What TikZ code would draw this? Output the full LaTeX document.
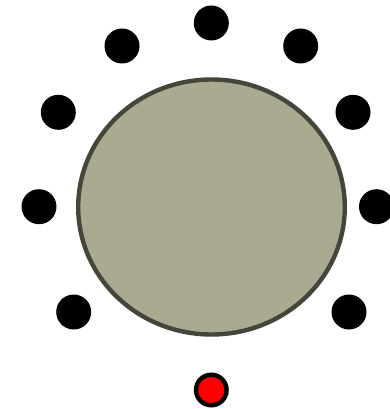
\documentclass[tikz,border=0pt]{standalone}
\usepackage{tikz}
\definecolor{dialfill}{HTML}{A9AA8F}
\definecolor{dialedge}{HTML}{45463A}
\tikzset{
    pin dot/.style={fill=black},
    start dot/.style={fill=red,draw=black,line width=4.4pt}
}
\begin{document}
\begin{tikzpicture}[x=1pt,y=-1pt]
    \useasboundingbox (0,0) rectangle (389,409);
    \coordinate (O) at (211.5,207);
    \coordinate (T) at (211.3,23);
    \coordinate (TL) at (122,46);
    \coordinate (TR) at (300.7,46);
    \coordinate (UL) at (58.3,112.3);
    \coordinate (UR) at (353,112.3);
    \coordinate (L) at (39,206.7);
    \coordinate (R) at (376.5,206.7);
    \coordinate (BL) at (73.7,312);
    \coordinate (BR) at (349,312);
    \coordinate (S) at (211.3,390);
    \filldraw[fill=dialfill,draw=dialedge,line width=4.4pt] (O) ellipse [x radius=133.3, y radius=127.5];
    \foreach \p in {T,TL,TR,UL,UR,L,R,BL,BR}
        \fill[pin dot] (\p) circle (17.5);
    \filldraw[start dot] (S) circle (15.3);
\end{tikzpicture}
\end{document}
